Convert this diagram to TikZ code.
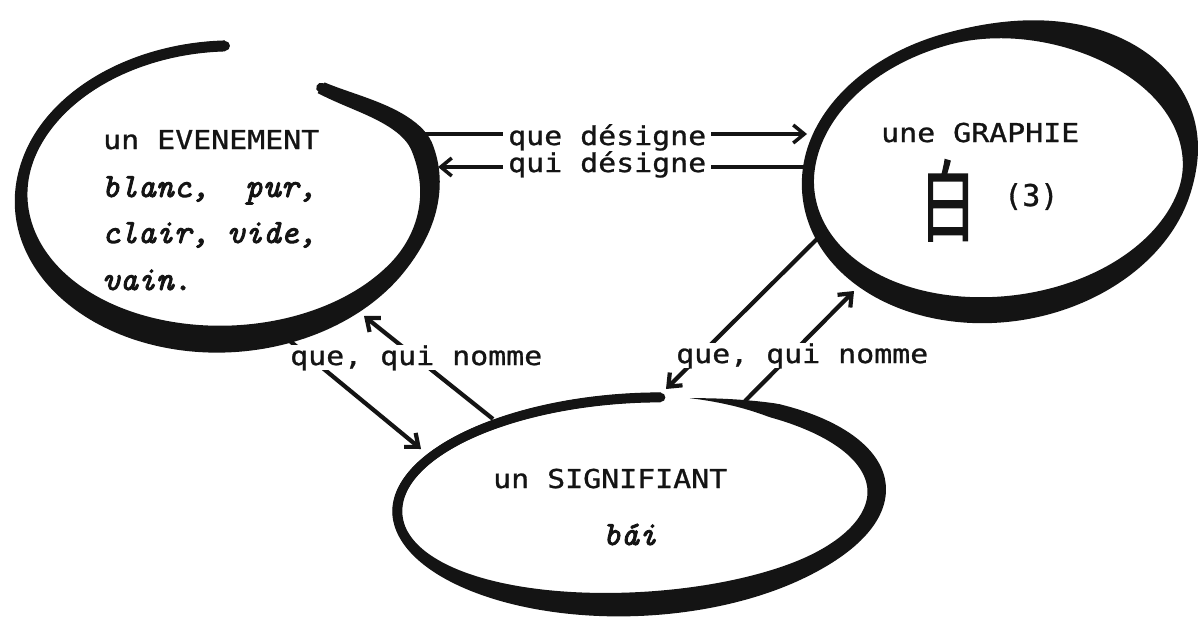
\documentclass[tikz,border=0pt]{standalone}
\usepackage{fontspec}
\usepackage{graphicx}
\usetikzlibrary{arrows.meta}
\newfontfamily\tw{DejaVu Sans Mono}[FakeStretch=1.15,FakeBold=1]
\newfontfamily\twn{DejaVu Sans Mono}[FakeBold=1]
\newfontfamily\twit{lmmono10-italic.otf}[FakeBold=2.5]
\newfontfamily\cjk{Noto Sans CJK SC}[FakeBold=2]
\definecolor{ink}{HTML}{141414}
\begin{document}
\begin{tikzpicture}[x=1pt,y=-1pt,
  declare function={
    bq(\xa,\xb,\xc)=max(0,1-((\xa-\xb)/\xc)*((\xa-\xb)/\xc));
    bump(\xa,\xb,\xc)=bq(\xa,\xb,\xc)*bq(\xa,\xb,\xc);
    wL(\xa)=11+16*bump(\xa,100,100)+11*bump(\xa,-15,50);
    sL(\xa)=1-0.16*bump(\xa,-54,40);
    wR(\xa)=12+18*bump(\xa,-40,60)+14*bump(\xa,100,90);
    wB(\xa)=min(1,(\xa+76)/22)*(10+14*bump(\xa,85,90)+10*bump(\xa,-20,70));
  },
  conn/.style={draw=ink, line width=4.2pt},
  arr/.style={conn, -{Straight Barb[length=11pt,width=18pt]}},
  lab/.style={font={\tw\fontsize{26}{30}\selectfont}, text=ink, inner sep=0pt, anchor=base west},
  labw/.style={lab, fill=white, inner xsep=5pt},
  itl/.style={font={\twit\fontsize{34}{38}\selectfont}, text=ink, inner sep=0pt, anchor=base west}
]
\fill[white] (0,0) rectangle (1204,621);
\useasboundingbox (0,0) rectangle (1204,621);

% left loop: un EVENEMENT
\begin{scope}[shift={(225.5,192.5)}, rotate=3]
  \coordinate (evc) at (0,0);
  \fill[ink] plot[domain=-54:272,samples=200,variable=\t]
      ({(204.5*sL(\t)+wL(\t)/2)*cos(\t)},{(146.5*sL(\t)+wL(\t)/2)*sin(\t)})
    -- plot[domain=272:-54,samples=200,variable=\t]
      ({(204.5*sL(\t)-wL(\t)/2)*cos(\t)},{(146.5*sL(\t)-wL(\t)/2)*sin(\t)}) -- cycle;
  \draw[ink,line width=10pt,line cap=round] plot[domain=-54:272,samples=200,variable=\t]
      ({204.5*sL(\t)*cos(\t)},{146.5*sL(\t)*sin(\t)});
\end{scope}

% right loop: une GRAPHIE
\begin{scope}[shift={(999,170)}, rotate=8]
  \coordinate (grc) at (0,0);
  \fill[ink,even odd rule] plot[domain=-100:260,samples=240,variable=\t]
      ({(192+wR(\t)/2)*cos(\t)},{(139+wR(\t)/2)*sin(\t)}) -- cycle
    plot[domain=-100:260,samples=240,variable=\t]
      ({(192-wR(\t)/2)*cos(\t)},{(139-wR(\t)/2)*sin(\t)}) -- cycle;
\end{scope}

% bottom loop: un SIGNIFIANT
\begin{scope}[shift={(637,501)}, rotate=3]
  \coordinate (sic) at (0,0);
  \fill[ink] plot[domain=-76:277,samples=220,variable=\t]
      ({(240+wB(\t)/2)*cos(\t)},{(103+wB(\t)/2)*sin(\t)})
    -- plot[domain=277:-76,samples=220,variable=\t]
      ({(240-wB(\t)/2)*cos(\t)},{(103-wB(\t)/2)*sin(\t)}) -- cycle;
  \draw[ink,line width=9pt,line cap=round] plot[domain=-50:277,samples=200,variable=\t]
      ({240*cos(\t)},{103*sin(\t)});
\end{scope}

% connector end points on the loops
\coordinate (c1s) at (418,134); \coordinate (c1e) at (807,134);
\coordinate (c2s) at (812,167); \coordinate (c2e) at (438,167);
\coordinate (c3s) at (285,337); \coordinate (c3e) at (421,449);
\coordinate (c4s) at (493,419); \coordinate (c4e) at (364,316);
\coordinate (c5s) at (818,238); \coordinate (c5e) at (666,389);
\coordinate (c6s) at (745,401); \coordinate (c6e) at (854,291);

\draw[arr,line width=3.5pt] (c1s) -- (c1e);
\draw[arr,line width=3.5pt] (c2s) -- (c2e);
\draw[arr] (c3s) -- (c3e);
\draw[arr] (c4s) -- (c4e);
\draw[arr] (c5s) -- (c5e);
\draw[arr] (c6s) -- (c6e);

% texts
\node[lab] (ev1) at (103,149) {un EVENEMENT};
\node[itl] (ev2) at (102,197) {blanc,\ \ pur,};
\node[itl] (ev3) at (102,243) {clair, vide,};
\node[itl] (ev4) at (102,290) {vain.};

\node[lab] (gr1) at (881,142) {une GRAPHIE};
\node[text=ink, inner sep=0pt, anchor=base] (gr2) at (948,234)
  {\scalebox{0.62}[1]{\cjk\fontsize{88}{88}\selectfont 白}};
\node[lab, font={\twn\fontsize{30}{34}\selectfont}] (gr3) at (1004,206) {(3)};

\node[lab] (si1) at (493,488) {un SIGNIFIANT};
\node[itl] (si2) at (603,545) {bái};

\node[labw, text depth=2pt] (d1) at (503,145) {que désigne};
\node[labw, text height=14pt] (d2) at (503,172) {qui désigne};
\node[labw] (n1) at (285,365) {que, qui nomme};
\node[labw] (n2) at (671,363) {que, qui nomme};
\end{tikzpicture}
\end{document}
